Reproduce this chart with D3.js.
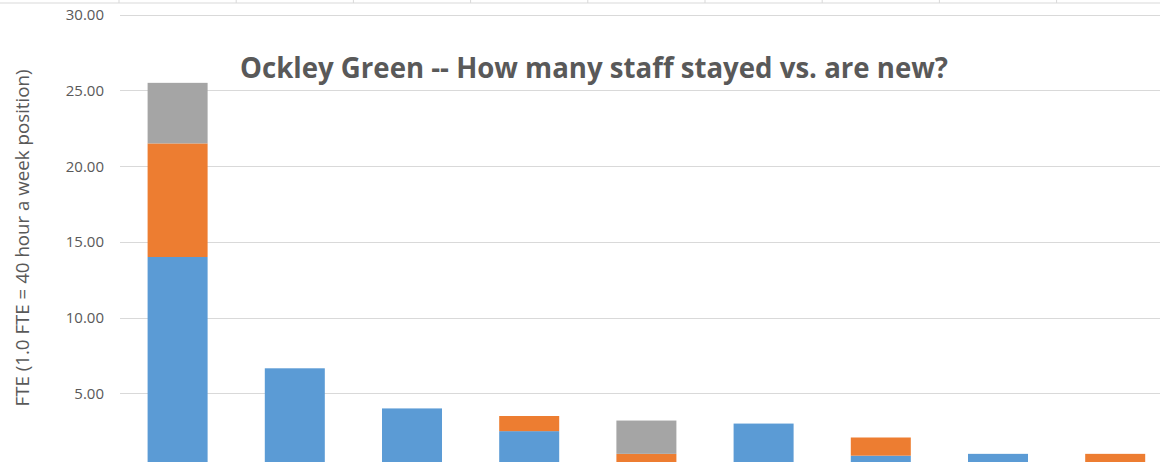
<!DOCTYPE html>
<html>
<head>
<meta charset="utf-8">
<script src="https://cdn.jsdelivr.net/npm/d3@7"></script>
<style>
  body { margin: 0; background: #fff; overflow: hidden; }
  text { font-family: "Open Sans", sans-serif; fill: #595959; }
</style>
</head>
<body>
<div id="chart"></div>
<script>
// categories (x labels are cut off in the picture)
var categories = ["Cat 1", "Cat 2", "Cat 3", "Cat 4", "Cat 5", "Cat 6", "Cat 7", "Cat 8", "Cat 9"];
var seriesNames = ["Stayed", "New", "Other"];
var stayed = [14.0, 6.65, 4.0, 2.5, 0, 3.0, 0.88, 1.0, 0];
var newStaff = [7.5, 0, 0, 1.0, 1.0, 0, 1.2, 0, 1.0];
var other = [4.0, 0, 0, 0, 2.2, 0, 0, 0, 0];
var yTicks = [5, 10, 15, 20, 25, 30];
var colors = ["#5B9BD5", "#ED7D31", "#A5A5A5"];

var W = 1160, H = 462;

var rows = categories.map(function (c, i) {
  return { cat: c, Stayed: stayed[i], New: newStaff[i], Other: other[i] };
});

var svg = d3.select("#chart").append("svg")
  .attr("width", W).attr("height", H);

// plot area (bottom lies below the visible window)
var x0 = 119, step = 117.2;
var xScale = d3.scaleBand()
  .domain(categories)
  .range([x0, x0 + step * categories.length])
  .paddingInner(0.488)
  .paddingOuter(0.244);

var yScale = d3.scaleLinear().domain([0, 30]).range([469, 14.7]);

// faint row line + column ticks above the chart
svg.append("line")
  .attr("x1", 0).attr("x2", W).attr("y1", 3).attr("y2", 3)
  .attr("stroke", "#d9d9d9").attr("stroke-width", 1);
svg.selectAll(".coltick")
  .data(categories)
  .enter().append("line")
  .attr("class", "coltick")
  .attr("x1", function (d) { return xScale(d) - xScale.step() * 0.244; })
  .attr("x2", function (d) { return xScale(d) - xScale.step() * 0.244; })
  .attr("y1", 0).attr("y2", 3)
  .attr("stroke", "#d9d9d9").attr("stroke-width", 1);

// gridlines
svg.selectAll(".grid")
  .data(yTicks)
  .enter().append("line")
  .attr("class", "grid")
  .attr("x1", 120).attr("x2", W)
  .attr("y1", function (d) { return Math.round(yScale(d)) + 0.5; })
  .attr("y2", function (d) { return Math.round(yScale(d)) + 0.5; })
  .attr("stroke", "#d9d9d9").attr("stroke-width", 1);

// y tick labels
svg.selectAll(".ylab")
  .data(yTicks)
  .enter().append("text")
  .attr("class", "ylab")
  .attr("x", 104)
  .attr("y", function (d) { return yScale(d); })
  .attr("dy", "0.36em")
  .attr("text-anchor", "end")
  .style("font-size", "15px")
  .text(function (d) { return d3.format(".2f")(d); });

// stacked bars
var stack = d3.stack().keys(seriesNames);
var layers = stack(rows);

svg.selectAll(".layer")
  .data(layers)
  .enter().append("g")
  .attr("class", "layer")
  .attr("fill", function (d, i) { return colors[i]; })
  .selectAll("rect")
  .data(function (d) { return d.filter(function (s) { return s[1] > s[0]; }); })
  .enter().append("rect")
  .attr("x", function (d) { return xScale(d.data.cat); })
  .attr("width", xScale.bandwidth())
  .attr("y", function (d) { return yScale(d[1]); })
  .attr("height", function (d) { return yScale(d[0]) - yScale(d[1]); });

// title
svg.append("text")
  .attr("x", 594).attr("y", 78)
  .attr("text-anchor", "middle")
  .attr("textLength", 708)
  .attr("lengthAdjust", "spacingAndGlyphs")
  .style("font-size", "28px")
  .style("font-weight", "bold")
  .text("Ockley Green -- How many staff stayed vs. are new?");

// y axis title
svg.append("text")
  .attr("transform", "translate(29,238) rotate(-90)")
  .attr("text-anchor", "middle")
  .attr("textLength", 337)
  .attr("lengthAdjust", "spacingAndGlyphs")
  .style("font-size", "18px")
  .text("FTE (1.0 FTE = 40 hour a week position)");
</script>
</body>
</html>
